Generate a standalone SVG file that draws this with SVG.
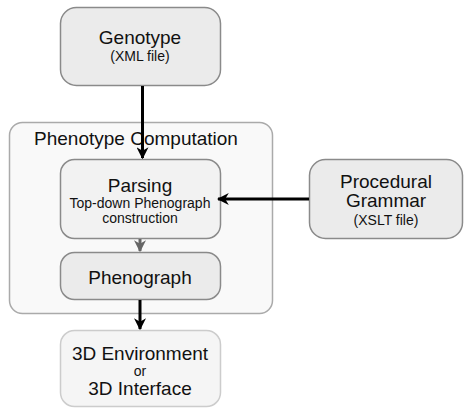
<svg xmlns="http://www.w3.org/2000/svg" width="464" height="408" viewBox="0 0 464 408">
<defs>
<style>
text{font-family:"Liberation Sans",Arial,sans-serif;fill:#111;text-anchor:middle}
.big{font-size:19px}
.sm{font-size:14px}
.box{stroke:#8a8a8a;stroke-width:1.5}
</style>
<marker id="ah" viewBox="0 0 10 10" refX="9" refY="5" markerWidth="4" markerHeight="4" orient="auto" markerUnits="strokeWidth"><path d="M0,0 L10,5 L0,10 L3,5 z" fill="#000"/></marker>
<marker id="ahg" viewBox="0 0 10 10" refX="9" refY="5" markerWidth="4" markerHeight="4" orient="auto" markerUnits="strokeWidth"><path d="M0,0 L10,5 L0,10 L3,5 z" fill="#666"/></marker>
</defs>
<rect width="464" height="408" fill="#fff"/>
<g id="phenotype-computation">
<rect x="9.5" y="122.5" width="263" height="191" rx="13" fill="#f9f9f9" stroke="#aaa" stroke-width="1.5"/>
<text class="big" x="136" y="145">Phenotype Computation</text>
</g>
<g id="genotype">
<rect class="box" x="60.5" y="7.5" width="160" height="78" rx="16" fill="#ebebeb"/>
<text class="big" x="140" y="44">Genotype</text>
<text class="sm" x="140" y="61">(XML file)</text>
</g>
<g id="parsing">
<rect class="box" x="60.5" y="159.5" width="160" height="79" rx="14" fill="#f2f2f2"/>
<text class="big" x="140" y="192">Parsing</text>
<text class="sm" x="140" y="208">Top-down Phenograph</text>
<text class="sm" x="140" y="223">construction</text>
</g>
<g id="phenograph">
<rect class="box" x="60.5" y="252.5" width="160" height="47" rx="14" fill="#ebebeb"/>
<text class="big" x="140" y="284">Phenograph</text>
</g>
<g id="procedural-grammar">
<rect class="box" x="309.5" y="159.5" width="153" height="79" rx="16" fill="#ebebeb"/>
<text class="big" x="386" y="188">Procedural</text>
<text class="big" x="386" y="207">Grammar</text>
<text class="sm" x="386" y="225">(XSLT file)</text>
</g>
<g id="environment">
<rect x="60.5" y="330.5" width="160" height="76" rx="14" fill="#f5f5f5" stroke="#ccc" stroke-width="1.5"/>
<text class="big" x="140" y="360">3D Environment</text>
<text class="sm" x="140" y="376">or</text>
<text class="big" x="140" y="395">3D Interface</text>
</g>
<g id="connectors" fill="none">
<line x1="142.5" y1="86" x2="142.5" y2="158" stroke="#000" stroke-width="3" marker-end="url(#ah)"/>
<line x1="140" y1="239" x2="140" y2="251" stroke="#666" stroke-width="3" marker-end="url(#ahg)"/>
<line x1="140" y1="300" x2="140" y2="329" stroke="#000" stroke-width="3" marker-end="url(#ah)"/>
<line x1="309" y1="199" x2="218" y2="199" stroke="#000" stroke-width="3" marker-end="url(#ah)"/>
</g>
</svg>
